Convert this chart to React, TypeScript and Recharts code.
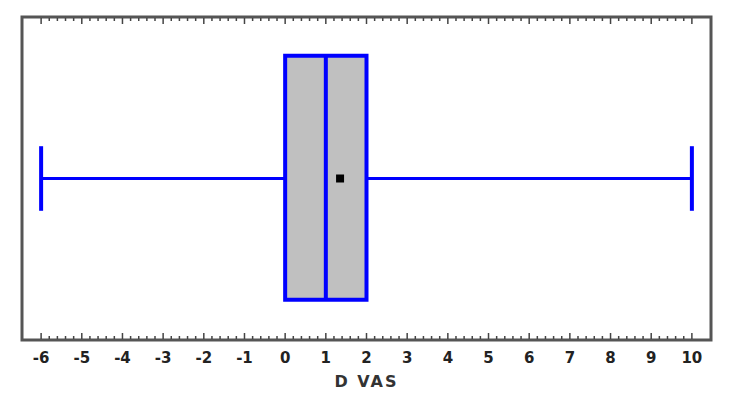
import React from 'react';
import {
  ComposedChart,
  XAxis,
  YAxis,
  ReferenceArea,
  ReferenceLine,
  Scatter,
} from 'recharts';

// Box plot summary of D VAS
const whiskerRange = [-6, 10];
const quartiles = [0, 1, 2]; // Q1, median, Q3
const meanValue = [1.35];

// axis ticks
const majorTicks = [-6, -5, -4, -3, -2, -1, 0, 1, 2, 3, 4, 5, 6, 7, 8, 9, 10];
const minorPerUnit = 5;

const allTicks: number[] = [];
majorTicks.forEach((t, i) => {
  allTicks.push(t);
  if (i < majorTicks.length - 1) {
    for (let k = 1; k < minorPerUnit; k++) {
      allTicks.push(Math.round((t + k / minorPerUnit) * 100) / 100);
    }
  }
});

const meanData = meanValue.map(v => ({ x: v, y: 0.5 }));

const BLUE = '#0000ff';
const FRAME = '#555555';
const FONT = '"DejaVu Sans", "Liberation Sans", Arial, sans-serif';

const BOX_BOTTOM = 0.125;
const BOX_TOP = 0.88;
const CAP_LOW = 0.4;
const CAP_HIGH = 0.6;

const isMajor = (v: number) => Math.abs(v - Math.round(v)) < 1e-6;

const BottomTick = (props: any) => {
  const { x, y, payload } = props;
  const v = payload.value;
  const major = isMajor(v);
  return (
    <g>
      <line x1={x} x2={x} y1={y - 1} y2={y - (major ? 7 : 4)} stroke="#444" strokeWidth={1.5} />
      {major && (
        <text
          x={x}
          y={y + 23}
          textAnchor="middle"
          fontFamily={FONT}
          fontWeight="bold"
          fontSize={15}
          fill="#222"
        >
          {String(Math.round(v))}
        </text>
      )}
    </g>
  );
};

const TopTick = (props: any) => {
  const { x, y, payload } = props;
  const major = isMajor(payload.value);
  return <line x1={x} x2={x} y1={y + 1} y2={y + (major ? 7 : 4)} stroke="#444" strokeWidth={1.5} />;
};

const MeanMarker = (props: any) => {
  const { cx, cy } = props;
  return <rect x={cx - 4} y={cy - 4} width={8} height={8} fill="#000" />;
};

const NoMarker = () => <g />;

export default function App() {
  const [lo, hi] = whiskerRange;
  const [q1, med, q3] = quartiles;
  const domain: [number, number] = [-6.47, 10.47];

  return (
    <div style={{ position: 'absolute', left: 0, top: 0, background: '#fff' }}>
      <ComposedChart
        width={730}
        height={402}
        margin={{ top: 16, right: 19, bottom: 15, left: 21 }}
      >
        <XAxis
          xAxisId="bottom"
          dataKey="x"
          type="number"
          domain={domain}
          allowDataOverflow
          ticks={allTicks}
          interval={0}
          tickSize={0}
          tickMargin={0}
          tickLine={false}
          tick={<BottomTick />}
          height={47}
          axisLine={false}
          label={{
            value: 'D VAS',
            position: 'insideBottom',
            offset: 0,
            fontFamily: FONT,
            fontWeight: 'bold',
            fontSize: 16,
            letterSpacing: 2,
            fill: '#333',
          }}
        />
        <XAxis
          xAxisId="top"
          orientation="top"
          dataKey="x"
          type="number"
          domain={domain}
          allowDataOverflow
          ticks={allTicks}
          interval={0}
          tickSize={0}
          tickMargin={0}
          tickLine={false}
          tick={<TopTick />}
          height={1}
          axisLine={false}
        />
        <YAxis
          yAxisId="left"
          dataKey="y"
          type="number"
          domain={[0, 1]}
          allowDataOverflow
          width={1}
          tick={false}
          tickLine={false}
          axisLine={false}
        />

        {/* plot frame */}
        <ReferenceArea
          xAxisId="bottom"
          yAxisId="left"
          x1={domain[0]}
          x2={domain[1]}
          y1={0}
          y2={1}
          fill="none"
          stroke={FRAME}
          strokeWidth={3}
        />

        {/* whiskers */}
        <ReferenceLine
          xAxisId="bottom"
          yAxisId="left"
          segment={[{ x: lo, y: 0.5 }, { x: q1, y: 0.5 }]}
          stroke={BLUE}
          strokeWidth={3}
        />
        <ReferenceLine
          xAxisId="bottom"
          yAxisId="left"
          segment={[{ x: q3, y: 0.5 }, { x: hi, y: 0.5 }]}
          stroke={BLUE}
          strokeWidth={3}
        />
        <ReferenceLine
          xAxisId="bottom"
          yAxisId="left"
          segment={[{ x: lo, y: CAP_LOW }, { x: lo, y: CAP_HIGH }]}
          stroke={BLUE}
          strokeWidth={4}
        />
        <ReferenceLine
          xAxisId="bottom"
          yAxisId="left"
          segment={[{ x: hi, y: CAP_LOW }, { x: hi, y: CAP_HIGH }]}
          stroke={BLUE}
          strokeWidth={4}
        />

        {/* box */}
        <ReferenceArea
          xAxisId="bottom"
          yAxisId="left"
          x1={q1}
          x2={q3}
          y1={BOX_BOTTOM}
          y2={BOX_TOP}
          fill="#c0c0c0"
          fillOpacity={1}
          stroke={BLUE}
          strokeWidth={4}
        />
        {/* median */}
        <ReferenceLine
          xAxisId="bottom"
          yAxisId="left"
          segment={[{ x: med, y: BOX_BOTTOM }, { x: med, y: BOX_TOP }]}
          stroke={BLUE}
          strokeWidth={4}
        />

        {/* mean */}
        <Scatter
          xAxisId="bottom"
          yAxisId="left"
          data={meanData}
          dataKey="y"
          shape={<MeanMarker />}
          isAnimationActive={false}
        />
        {/* binds the mirrored top axis so its ticks render */}
        <Scatter
          xAxisId="top"
          yAxisId="left"
          data={meanData}
          dataKey="y"
          shape={<NoMarker />}
          isAnimationActive={false}
        />
      </ComposedChart>
    </div>
  );
}
